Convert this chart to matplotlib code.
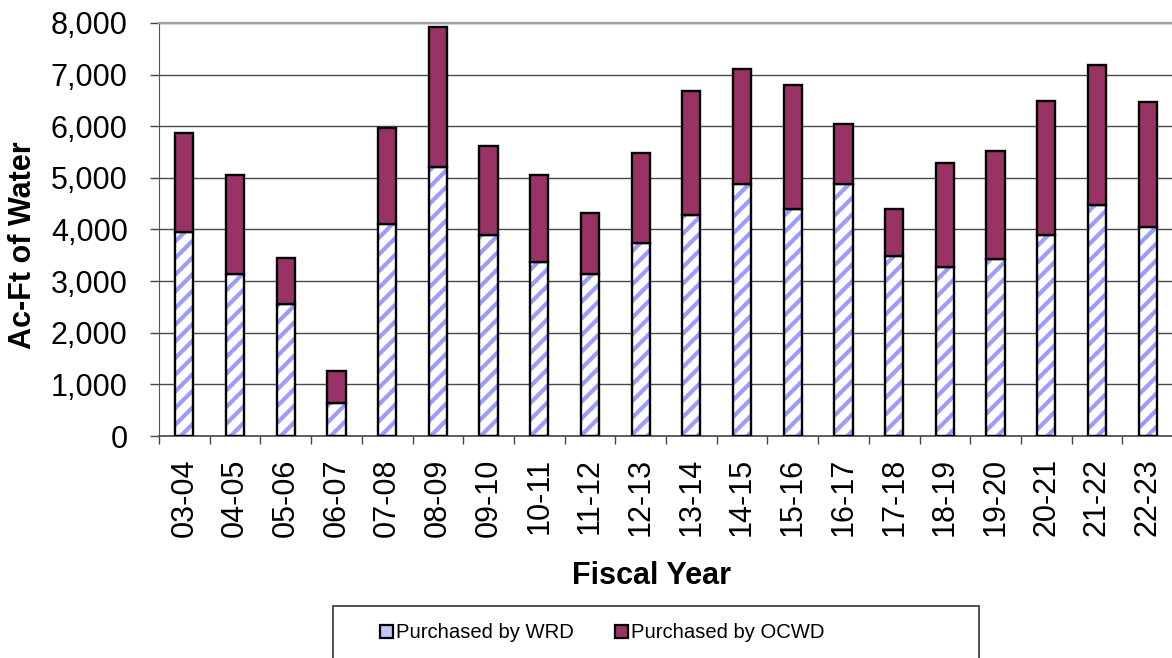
import numpy as np
import matplotlib
matplotlib.use("Agg")
import matplotlib.pyplot as plt
from matplotlib.patches import Patch, Rectangle
from matplotlib.ticker import FuncFormatter, MultipleLocator

plt.rcParams['font.family'] = ['Liberation Sans', 'DejaVu Sans']
plt.rcParams['hatch.linewidth'] = 3.0

fiscal_years = ["03-04", "04-05", "05-06", "06-07", "07-08", "08-09", "09-10",
                "10-11", "11-12", "12-13", "13-14", "14-15", "15-16", "16-17",
                "17-18", "18-19", "19-20", "20-21", "21-22", "22-23"]
purchased_wrd = [3960, 3136, 2556, 637, 4115, 5209, 3902, 3374, 3142, 3748,
                 4276, 4874, 4398, 4881, 3490, 3278, 3432, 3896, 4475, 4050]
total_purchased = [5866, 5061, 3451, 1262, 5963, 7927, 5615, 5061, 4327, 5486,
                   6684, 7102, 6793, 6046, 4404, 5287, 5525, 6497, 7180, 6471]
purchased_ocwd = [t - w for t, w in zip(total_purchased, purchased_wrd)]

wrd_stripe = "#9c9cff"
ocwd_color = "#993366"

W, H = 1172, 658
fig = plt.figure(figsize=(W / 100, H / 100), dpi=100)
ax = fig.add_axes([159 / W, 1 - 436 / H, 1014 / W, 413 / H])

x = np.arange(len(fiscal_years))
bw = 0.36

# WRD portion: white bars with blue diagonal stripes
ax.bar(x, purchased_wrd, bw, color="white", edgecolor=wrd_stripe, hatch="//",
       linewidth=0, zorder=2)
ax.bar(x, purchased_wrd, bw, fill=False, edgecolor="black", linewidth=1.7, zorder=3)
# OCWD portion stacked on top
ax.bar(x, purchased_ocwd, bw, bottom=purchased_wrd, color=ocwd_color,
       edgecolor="black", linewidth=1.7, zorder=3)

ax.set_xlim(-0.5, len(fiscal_years) - 0.5)
ax.set_ylim(0, 8000)
ax.yaxis.set_major_locator(MultipleLocator(1000))
ax.yaxis.set_major_formatter(FuncFormatter(lambda v, p: f"{int(v):,}"))

ax.set_xticks(x)
ax.set_xticklabels(fiscal_years, rotation=90, fontsize=22)
ax.set_xticks(np.arange(-0.5, len(fiscal_years), 1.0), minor=True)
ax.tick_params(axis="x", which="major", length=0, pad=16)
ax.tick_params(axis="x", which="minor", length=6, width=1, color="#444444",
               direction="out")
ax.tick_params(axis="y", which="major", length=6.5, width=1, color="#444444",
               labelsize=22, pad=16)

ax.set_axisbelow(True)
ax.yaxis.grid(True, color="#4a4a4a", linewidth=1.0)
ax.spines["right"].set_visible(False)
ax.spines["top"].set_color("#a0a0a0")
ax.spines["top"].set_linewidth(1.6)
ax.spines["left"].set_color("#555555")
ax.spines["bottom"].set_color("#444444")
ax.spines["bottom"].set_linewidth(1.2)

ax.set_xlabel("Fiscal Year", fontsize=22, fontweight="bold")
ax.xaxis.set_label_coords((652 - 159) / 1014, (436 - 561) / 413)
ax.xaxis.label.set_va("top")
ax.set_ylabel("Ac-Ft of Water", fontsize=22, fontweight="bold")
ax.yaxis.set_label_coords((38 - 159) / 1014, (436 - 245) / 413)

# Legend box and entries
fig.patches.append(Rectangle((333 / W, -0.05), (979 - 333) / W, (1 - 606 / H) + 0.05,
                             transform=fig.transFigure, facecolor="white",
                             edgecolor="#333333", linewidth=1.2, zorder=1))
handles = [Patch(facecolor="#c4c4fa", edgecolor="black", linewidth=1.6,
                 label="Purchased by WRD"),
           Patch(facecolor=ocwd_color, edgecolor="black", linewidth=1.6,
                 label="Purchased by OCWD")]
leg = fig.legend(handles=handles, loc="center left",
                 bbox_to_anchor=(364 / W, 1 - 633 / H), ncol=2, frameon=False,
                 fontsize=14.6, handlelength=0.65, handleheight=0.65,
                 handletextpad=0.15, columnspacing=2.0, borderpad=0.3)
leg.set_zorder(2)

fig.savefig("out.png", dpi=100)
